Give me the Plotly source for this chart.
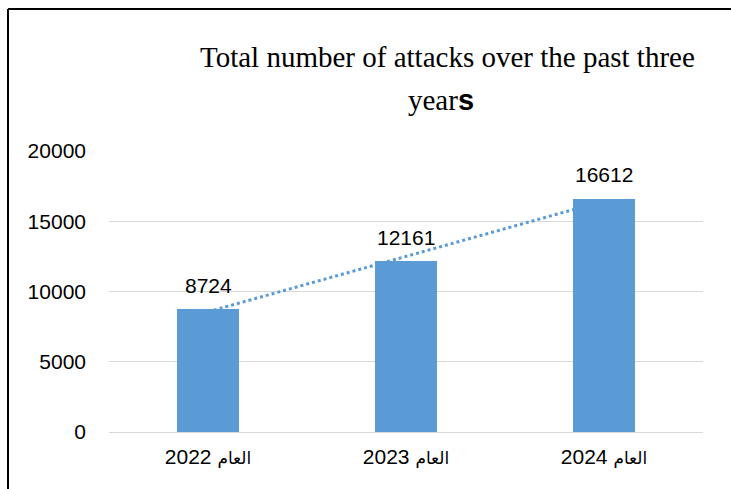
import numpy as np
import plotly.graph_objects as go

categories = ["العام 2022", "العام 2023", "العام 2024"]
attacks = [8724, 12161, 16612]
y_ticks = [0, 5000, 10000, 15000, 20000]
y_tick_labels = ["0", "5000", "10000", "15000", "20000"]

title_line1 = "Total number of attacks over the past three"
title_line2 = "year<b><span style='font-family:Liberation Sans'>s</span></b>"

BAR_COLOR = "#5B9BD5"

# linear trendline fitted to the data
xi = np.arange(len(attacks))
slope, intercept = np.polyfit(xi, attacks, 1)
trend = (slope * xi + intercept).tolist()


def cat_label(c):
    word, year = c.split(" ")
    return (f"{year} <span style='font-family:DejaVu Sans;font-size:17px'>{word}</span>")


x_tick_text = [cat_label(c) for c in categories]

L, R, T, B = 109, 28, 151, 57
W, H = 731, 489
pw, ph = W - L - R, H - T - B

fig = go.Figure()
fig.add_trace(go.Scatter(
    x=categories, y=trend, mode="lines",
    line=dict(color=BAR_COLOR, width=3, dash="dot"),
    hoverinfo="skip", showlegend=False, xaxis="x", yaxis="y"))
fig.add_trace(go.Bar(
    x=categories, y=attacks, marker=dict(color=BAR_COLOR, line=dict(width=0)),
    width=0.313, showlegend=False, xaxis="x2", yaxis="y2"))

for c, v in zip(categories, attacks):
    fig.add_annotation(x=c, y=v, xref="x2", yref="y2", text=str(v),
                       showarrow=False, yanchor="middle", yshift=24,
                       font=dict(family="Liberation Sans", size=21, color="#000000"))

fig.add_annotation(x=(447 - L) / pw, y=(H - B - 57) / ph, xref="paper", yref="paper",
                   text=title_line1, showarrow=False, xanchor="center", yanchor="middle",
                   font=dict(family="Liberation Serif", size=29, color="#000000"))
fig.add_annotation(x=(441 - L) / pw, y=(H - B - 100) / ph, xref="paper", yref="paper",
                   text=title_line2, showarrow=False, xanchor="center", yanchor="middle",
                   font=dict(family="Liberation Serif", size=29, color="#000000"))

# outer border (left and top edges visible; kept inside the canvas)
bx = (8 - L) / pw
by = (H - B - 9) / ph
fig.add_shape(type="line", xref="paper", yref="paper", x0=bx, x1=bx,
              y0=(H - B - H) / ph, y1=by,
              line=dict(color="#000000", width=2), layer="above")
fig.add_shape(type="line", xref="paper", yref="paper", x0=bx, x1=(W - L) / pw,
              y0=by, y1=by, line=dict(color="#000000", width=2), layer="above")

axis_font = dict(family="Liberation Sans", size=21, color="#000000")
fig.update_layout(
    width=W, height=H, margin=dict(l=L, r=R, t=T, b=B, pad=0),
    paper_bgcolor="white", plot_bgcolor="white",
    xaxis=dict(type="category", categoryorder="array", categoryarray=categories,
               range=[-0.5, 2.5], showgrid=False, showline=False, zeroline=False,
               tickvals=categories, ticktext=x_tick_text,
               tickfont=axis_font, ticks="", ticklabelstandoff=10),
    yaxis=dict(range=[0, 20000], tickvals=y_ticks, ticktext=y_tick_labels,
               showgrid=True, gridcolor="#D9D9D9",
               gridwidth=1, zeroline=True, zerolinecolor="#D9D9D9", zerolinewidth=1,
               showline=False, tickfont=axis_font, ticks="", ticklabelstandoff=22),
    xaxis2=dict(type="category", categoryorder="array", categoryarray=categories,
                range=[-0.5, 2.5], overlaying="x", showgrid=False, showticklabels=False,
                zeroline=False, showline=False, matches="x"),
    yaxis2=dict(range=[0, 20000], overlaying="y", showgrid=False, showticklabels=False,
                zeroline=False, showline=False),
    bargap=0,
)

fig.write_html("out.html", config={"displayModeBar": False},
               post_script="document.documentElement.style.overflow='hidden';"
                           "document.body.style.overflow='hidden';"
                           "document.body.style.margin='0';")
